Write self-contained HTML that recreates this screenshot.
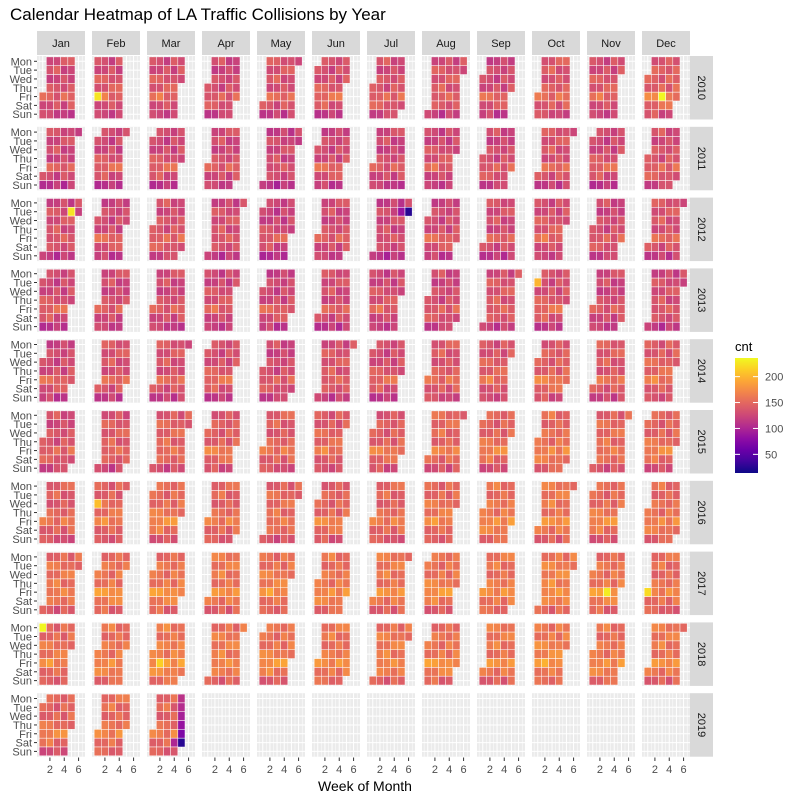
<!DOCTYPE html>
<html><head><meta charset="utf-8"><style>
body{margin:0;background:#fff;}
svg{display:block;font-family:"Liberation Sans",Arial,sans-serif;}
</style></head><body>
<svg id="chart" width="800" height="800" viewBox="0 0 800 800">
<text x="10" y="20" font-size="17" fill="#000">Calendar Heatmap of LA Traffic Collisions by Year</text>
<text x="365" y="791" font-size="14" text-anchor="middle" fill="#000">Week of Month</text>
<g id="g"></g>
</svg>
<script>
const months = ["Jan","Feb","Mar","Apr","May","Jun","Jul","Aug","Sep","Oct","Nov","Dec"];
const years = [2010,2011,2012,2013,2014,2015,2016,2017,2018,2019];
const dayLabels = ["Mon","Tue","Wed","Thu","Fri","Sat","Sun"];
const xTicks = [2,4,6];
const legendTicks = [50,100,150,200];
// monthly mean collision counts, rows = years
const monthMeans = [
 [132,135,135,130,135,135,135,135,130,140,135,145],
 [128,130,130,130,125,130,128,130,130,135,130,135],
 [130,130,135,130,125,130,125,130,130,135,130,135],
 [130,130,130,130,128,130,130,130,135,135,128,130],
 [130,135,135,135,130,135,133,140,140,145,140,145],
 [135,140,145,145,145,145,145,150,150,155,150,150],
 [145,150,155,150,150,150,150,155,160,160,155,155],
 [155,160,160,160,160,160,160,160,160,165,160,155],
 [155,160,165,160,160,160,160,160,160,165,160,160],
 [150,155,150,null,null,null,null,null,null,null,null,null]
];
// weekday offsets Mon..Sun
const weekdayOffsets = [-3,-2,0,2,16,2,-14];
// day-of-month variation
const dayVariation = [7,-10,15,-5,4,-13,9,0,-8,12,-4,17,-9,3,-15,8,-3,13,-11,5,-7,10,-14,1,14,-5,-10,8,-3,11,-8];
// notable individual days: [year, month(1-12), day, count]
const specialDays = [
 [2010,2,5,225],[2010,12,17,235],[2012,7,31,25],[2012,7,24,85],[2012,1,24,225],
 [2013,10,1,200],[2016,2,3,205],[2017,11,17,230],[2017,12,1,220],[2018,1,1,235],[2018,3,9,215],
 [2019,3,23,100],[2019,3,25,110],[2019,3,26,105],[2019,3,27,95],[2019,3,28,85],[2019,3,29,70],[2019,3,30,25]
];
// days with no records
const missingDays = [[2019,3,31]];
const vmin = 14, vmax = 236;
const plasma = ["#0d0887","#41049d","#6a00a8","#8f0da4","#b12a90","#cc4778","#e16462","#f2844b","#fca636","#fcce25","#f0f921"];
function hex(c){return [1,3,5].map(i=>parseInt(c.substr(i,2),16));}
function color(v){
  let t=Math.max(0,Math.min(1,(v-vmin)/(vmax-vmin)))*10;
  let i=Math.min(9,Math.floor(t)),f=t-i;
  const a=hex(plasma[i]),b=hex(plasma[i+1]);
  return "rgb("+a.map((x,k)=>Math.round(x+(b[k]-x)*f)).join(",")+")";
}
const NS="http://www.w3.org/2000/svg";
const g=document.getElementById("g");
function el(tag,attrs,parent){const e=document.createElementNS(NS,tag);for(const k in attrs)e.setAttribute(k,attrs[k]);(parent||g).appendChild(e);return e;}
const panelW=48, panelH=63.5, colStep=55, rowStep=70.8, left0=37, top0=56;
const unitX=7.17, unitY=63.5/7.2;
function xScale(px,w){return px+(w-0.2)*unitX;}
function yScale(py,d){return py+(d+1-0.4)*unitY;}
months.forEach((m,mi)=>{
  const r=el("rect",{x:left0+mi*colStep,y:31,width:panelW,height:24,fill:"#d9d9d9"});
  
  
  const t=el("text",{x:left0+mi*colStep+panelW/2,y:47,"font-size":11,"text-anchor":"middle",fill:"#1a1a1a"});
  t.textContent=m;
  
  
});
years.forEach((yr,yi)=>{
  const py=top0+yi*rowStep;
  const r=el("rect",{x:690,y:py,width:23,height:panelH,fill:"#d9d9d9"});
  
  
  const t=el("text",{x:0,y:0,"font-size":11,"text-anchor":"middle",fill:"#1a1a1a",transform:"translate(698,"+(py+panelH/2)+") rotate(90)"});
  t.textContent=yr;
  
  
  dayLabels.forEach((d,di)=>{
    const yy=yScale(py,di);
    const tx=el("text",{x:32,y:yy+4,"font-size":11,"text-anchor":"end",fill:"#4d4d4d"});
    tx.textContent=d;
    
    
    el("line",{x1:34,x2:37,y1:yy,y2:yy,stroke:"#333","stroke-width":1});
  });
  months.forEach((m,mi)=>{
    const px=left0+mi*colStep;
    const bg=el("rect",{x:px,y:py,width:panelW,height:panelH,fill:"#ebebeb"});
    
    
    for(let w=0.5;w<=6.5;w+=0.5){const x=xScale(px,w);el("line",{x1:x,x2:x,y1:py,y2:py+panelH,stroke:"#fff","stroke-width":w%1===0?1:0.5});}
    for(let d=0;d<7;d++){const y=yScale(py,d);el("line",{x1:px,x2:px+panelW,y1:y,y2:y,stroke:"#fff","stroke-width":1});}
    const mean=monthMeans[yi][mi];
    if(mean===null) return;
    const first=(new Date(yr,mi,1).getDay()+6)%7;
    const nd=new Date(yr,mi+1,0).getDate();
    for(let day=1;day<=nd;day++){
      if(missingDays.some(s=>s[0]===yr&&s[1]===mi+1&&s[2]===day)) continue;
      const dow=(first+day-1)%7;
      const wk=Math.floor((day-1+first)/7)+1;
      let v=mean+weekdayOffsets[dow]+dayVariation[day-1];
      specialDays.forEach(s=>{if(s[0]===yr&&s[1]===mi+1&&s[2]===day)v=s[3];});
      const cell=el("rect",{x:xScale(px,wk-0.5),y:yScale(py,dow)-unitY/2,width:unitX,height:unitY,fill:color(v),stroke:"#fff","stroke-width":0.5});
      
      
    }
  });
});
months.forEach((m,mi)=>{
  const px=left0+mi*colStep;
  xTicks.forEach(tk=>{
    const x=xScale(px,tk);
    el("line",{x1:x,x2:x,y1:757.5,y2:761,stroke:"#333","stroke-width":1});
    const t=el("text",{x:x,y:773,"font-size":11,"text-anchor":"middle",fill:"#4d4d4d"});
    t.textContent=tk;
    
    
  });
});
const lt=el("text",{x:735,y:351,"font-size":13,fill:"#000"});
lt.textContent="cnt";


const defs=el("defs",{});
const grad=el("linearGradient",{id:"lg",x1:0,y1:1,x2:0,y2:0},defs);
plasma.forEach((c,i)=>el("stop",{offset:(i*10)+"%","stop-color":c},grad));
const lb=el("rect",{x:735,y:358,width:23,height:115,fill:"url(#lg)"});


legendTicks.forEach(v=>{
  const y=473-(v-vmin)/(vmax-vmin)*115;
  el("line",{x1:735,x2:740,y1:y,y2:y,stroke:"#fff","stroke-width":1});
  el("line",{x1:753,x2:758,y1:y,y2:y,stroke:"#fff","stroke-width":1});
  const t=el("text",{x:765,y:y+4,"font-size":11,fill:"#4d4d4d"});
  t.textContent=v;
  
  
});
</script>
</body></html>
